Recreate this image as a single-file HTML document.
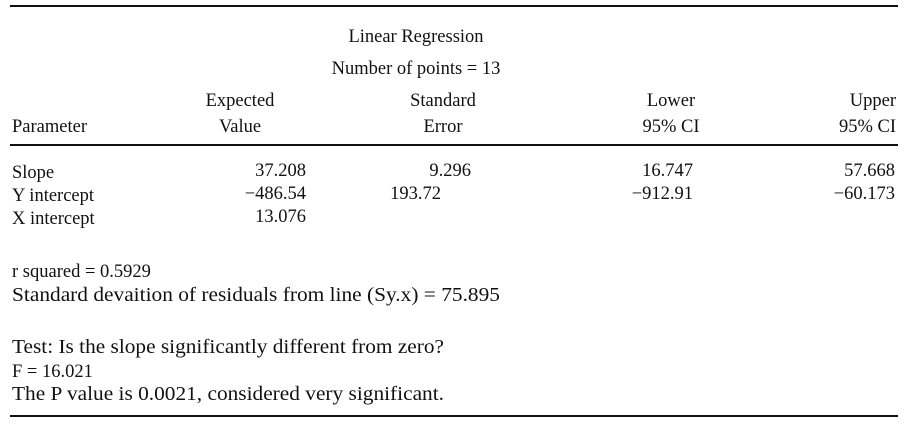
<!DOCTYPE html>
<html><head><meta charset="utf-8"><style>
html,body{margin:0;padding:0;background:#fff;}
svg{display:block;}
text{font-family:"Liberation Serif",serif;font-size:18.5px;fill:#111;}
text.long{font-size:19.5px;}
</style></head>
<body>
<svg width="912" height="439" viewBox="0 0 912 439">
<line x1="10" y1="6" x2="898" y2="6" stroke="#111" stroke-width="2"/>
<text x="416" y="42" text-anchor="middle">Linear Regression</text>
<text x="416" y="74" text-anchor="middle">Number of points = 13</text>

<text x="12" y="132">Parameter</text>
<text x="240" y="106" text-anchor="middle">Expected</text>
<text x="240" y="132" text-anchor="middle">Value</text>
<text x="443" y="106" text-anchor="middle">Standard</text>
<text x="443" y="132" text-anchor="middle">Error</text>
<text x="671" y="106" text-anchor="middle">Lower</text>
<text x="671" y="132" text-anchor="middle">95% CI</text>
<text x="896" y="106" text-anchor="end">Upper</text>
<text x="896" y="132" text-anchor="end">95% CI</text>
<line x1="10" y1="145" x2="898" y2="145" stroke="#111" stroke-width="2"/>

<text x="12" y="178">Slope</text>
<text x="306" y="176" text-anchor="end">37.208</text>
<text x="471" y="176" text-anchor="end">9.296</text>
<text x="693" y="176" text-anchor="end">16.747</text>
<text x="895" y="176" text-anchor="end">57.668</text>

<text x="12" y="201">Y intercept</text>
<text x="306" y="199" text-anchor="end">−486.54</text>
<text x="441" y="199" text-anchor="end">193.72</text>
<text x="693" y="199" text-anchor="end">−912.91</text>
<text x="895" y="199" text-anchor="end">−60.173</text>

<text x="12" y="224">X intercept</text>
<text x="306" y="222" text-anchor="end">13.076</text>

<text x="12" y="277">r squared = 0.5929</text>
<text class="long" x="12" y="301" textLength="488" lengthAdjust="spacingAndGlyphs">Standard devaition of residuals from line (Sy.x) = 75.895</text>
<text class="long" x="12" y="353" textLength="432" lengthAdjust="spacingAndGlyphs">Test: Is the slope significantly different from zero?</text>
<text x="12" y="377">F = 16.021</text>
<text class="long" x="12" y="400" textLength="432" lengthAdjust="spacingAndGlyphs">The P value is 0.0021, considered very significant.</text>
<line x1="10" y1="416" x2="898" y2="416" stroke="#111" stroke-width="2"/>
</svg>
</body></html>
